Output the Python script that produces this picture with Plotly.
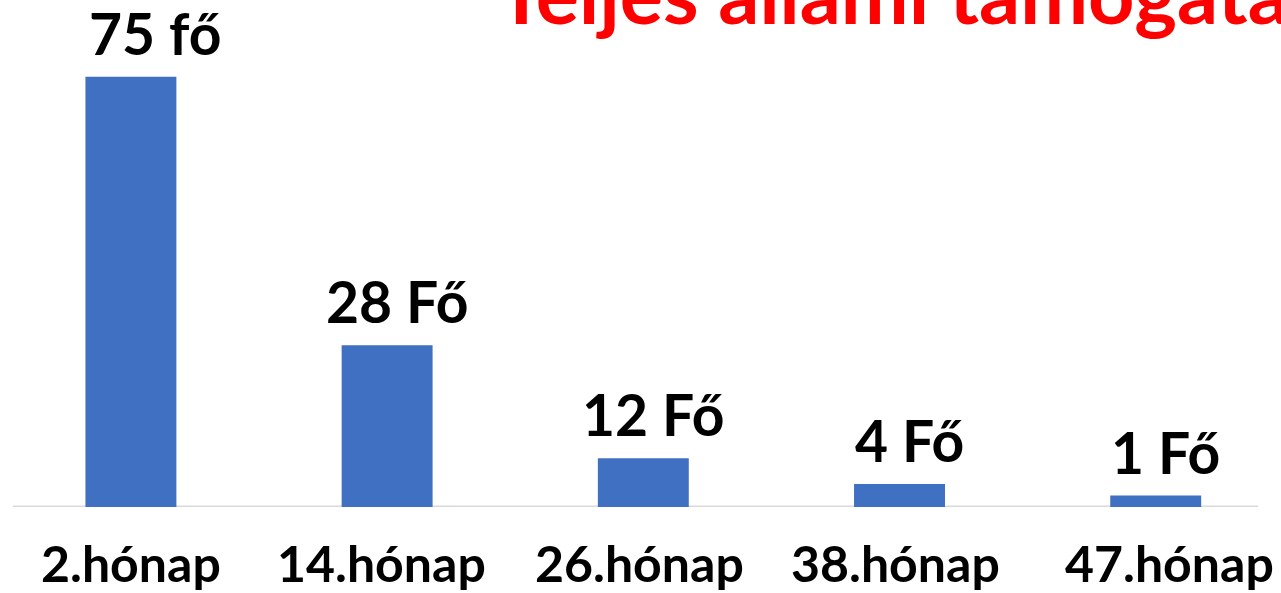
import plotly.graph_objects as go

# Data
categories = ["2.hónap", "14.hónap", "26.hónap", "38.hónap", "47.hónap"]
bar_heights = [75, 28.2, 8.5, 4.0, 2.0]
value_labels = ["75 fő", "28 Fő", "12 Fő", "4 Fő", "1 Fő"]
title_text = "Teljes állami támogatás"

# Styling (label nudges as in the original slide)
BAR_COLOR = "#4070C2"
FONT = "Lato"
value_label_dx = [24, 10, 10, 10, 10]
cat_label_dx = [0, -6, -4, -4, 14]

fig = go.Figure()
fig.add_trace(go.Bar(
    x=categories, y=bar_heights, width=0.355,
    marker=dict(color=BAR_COLOR, line=dict(width=0)),
    hoverinfo="skip",
))

annotations = []
for c, h, t, dx in zip(categories, bar_heights, value_labels, value_label_dx):
    annotations.append(dict(
        x=c, y=h, xref="x", yref="y", text=t, showarrow=False,
        xanchor="center", yanchor="bottom", xshift=dx, yshift=8,
        font=dict(family=FONT, size=57, color="#000000", weight=700),
    ))
for c, dx in zip(categories, cat_label_dx):
    annotations.append(dict(
        x=c, y=0, xref="x", yref="paper", text=c, showarrow=False,
        xanchor="center", yanchor="top", xshift=dx, yshift=-24,
        font=dict(family=FONT, size=50, color="#000000", weight=700),
    ))
annotations.append(dict(
    x=495 / 1281, y=1, xref="paper", yref="paper", text=title_text,
    showarrow=False, xanchor="left", yanchor="bottom", yshift=-43,
    font=dict(family=FONT, size=81, color="#FF0000", weight=700),
))

fig.update_layout(
    width=1281, height=593,
    margin=dict(l=0, r=0, t=0, b=86),
    paper_bgcolor="white", plot_bgcolor="white",
    showlegend=False,
    xaxis=dict(range=[-0.511, 4.489], showticklabels=False, showgrid=False,
               zeroline=False, showline=False, ticks=""),
    yaxis=dict(range=[0, 88.4], visible=False, showgrid=False, zeroline=False),
    annotations=annotations,
    shapes=[dict(type="line", xref="paper", yref="y", x0=13 / 1281, x1=1258 / 1281,
                 y0=0, y1=0, line=dict(color="#D9D9D9", width=3), layer="below")],
)

fig.write_html(
    "out.html",
    config={"displayModeBar": False},
    post_script="document.body.style.margin='0';document.body.style.padding='0';"
                "document.body.style.overflow='hidden';",
)
